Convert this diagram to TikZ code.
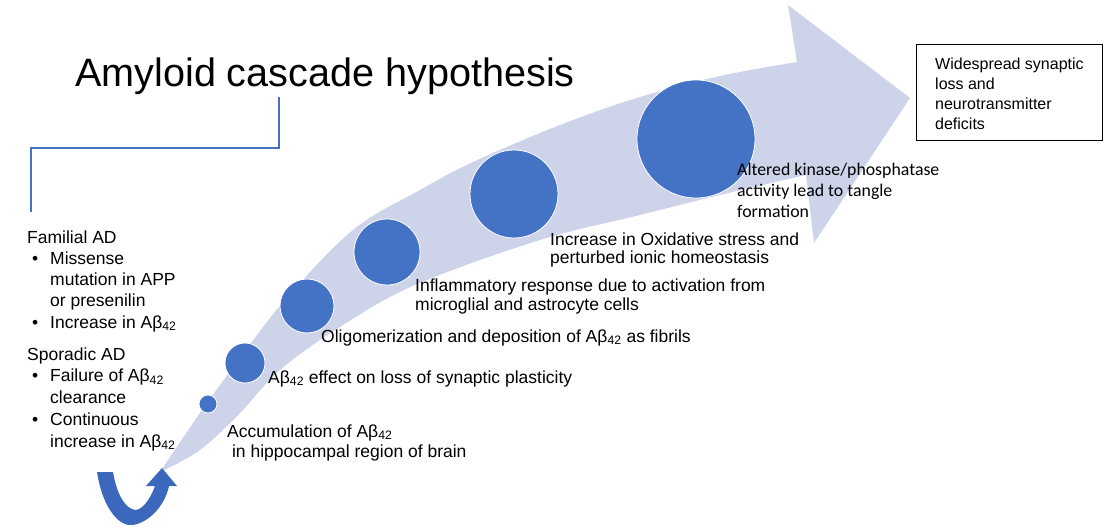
\documentclass[tikz,border=0pt]{standalone}
\usepackage{fontspec}
\setmainfont{Liberation Sans}
\newfontfamily\calib{Carlito}
\definecolor{bandc}{RGB}{205,212,234}
\definecolor{dotc}{RGB}{68,114,196}
\definecolor{uarr}{RGB}{59,104,188}
\newcommand\Ab{Aβ\textsubscript{42}}
\newcommand\lines[1]{\begin{tabular}[t]{@{}l@{}}#1\end{tabular}}
\tikzset{
  dot/.style={circle, fill=dotc, draw=white, line width=0.8pt, inner sep=0pt},
  txt/.style={anchor=base west, inner sep=0pt, font=\fontsize{17.5}{21.3}\selectfont},
  ktxt/.style={anchor=base west, inner sep=0pt, font=\calib\fontsize{17.8}{21.5}\selectfont},
  boxtxt/.style={anchor=base west, inner sep=0pt, font=\fontsize{16}{20}\selectfont},
  brk/.style={draw=dotc, line width=2pt}
}
\newcommand\bul{\makebox[23pt][l]{\hspace{5pt}•}}
\newcommand\ind{\hspace*{23pt}}
\begin{document}
\begin{tikzpicture}[x=1pt,y=-1pt]
\useasboundingbox (0,0) rectangle (1104,527);
\fill[white] (0,0) rectangle (1104,527);

% big curved arrow
\fill[bandc] plot[smooth, tension=0.6] coordinates {(160,472) (200,413) (240,358) (285,300) (353,230) (420,190) (473,162) (560,125) (640,97) (720,76) (797,62)}
  -- (788,5) -- (910,98) -- (814,243) -- (806,175)
  -- plot[smooth, tension=0.6] coordinates {(806,175) (720,195) (640,215) (540,240) (415,285) (340,327) (280,370) (240,413) (200,450) (160,472)} -- cycle;

% U-turn arrow
\fill[uarr] (97,472) .. controls (103,510) and (120,527) .. (133,525)
  .. controls (150,522) and (165,505) .. (169,486) -- (177,486) -- (162,468) -- (146,486) -- (155,486)
  .. controls (150,500) and (142,510) .. (135,510) .. controls (125,508) and (117,495) .. (113,472) -- cycle;

% circles
\node[dot, minimum size=18pt] (c1) at (208,404) {};
\node[dot, minimum size=40pt] (c2) at (245,363) {};
\node[dot, minimum size=54pt] (c3) at (307,306) {};
\node[dot, minimum size=66pt] (c4) at (387,252) {};
\node[dot, minimum size=88pt] (c5) at (514,194) {};
\node[dot, minimum size=118pt] (c6) at (696,139) {};

% title
\node[anchor=base west, inner sep=0pt, font=\fontsize{39.6}{48}\selectfont] (title) at (75,87) {Amyloid cascade hypothesis};

% bracket
\coordinate (bk) at (279,97);
\coordinate (bl) at (31,212);
\draw[brk] (bk) -- ++(0,51) -| (bl);

% left text
\node[txt] (fam) at (27,243) {\lines{Familial AD\\
\bul Missense\\
\ind mutation in APP\\
\ind or presenilin\\
\bul Increase in \Ab}};
\node[txt, font=\fontsize{17.5}{21.8}\selectfont] (spo) at (27,360) {\lines{Sporadic AD\\
\bul Failure of \Ab\\
\ind clearance\\
\bul Continuous\\
\ind increase in \Ab}};

% arc labels
\node[txt, font=\fontsize{17.5}{20}\selectfont] (t1) at (227,437) {\lines{Accumulation of \Ab\\ \ in hippocampal region of brain}};
\node[txt] (t2) at (268,383) {\Ab{} effect on loss of synaptic plasticity};
\node[txt] (t3) at (321,342) {Oligomerization and deposition of \Ab{} as fibrils};
\node[txt, font=\fontsize{17.5}{19.3}\selectfont] (t4) at (415,291) {\lines{Inflammatory response due to activation from\\microglial and astrocyte cells}};
\node[txt, font=\fontsize{17.5}{18.5}\selectfont] (t5) at (550,245) {\lines{Increase in Oxidative stress and\\perturbed ionic homeostasis}};
\node[ktxt] (t6) at (737,175) {\lines{Altered kinase/phosphatase\\activity lead to tangle\\formation}};

% box
\draw[black, line width=0.8pt] (916,44) rectangle (1102,140);
\node[boxtxt] (box) at (935,70) {\lines{Widespread synaptic\\loss and\\neurotransmitter\\deficits}};
\end{tikzpicture}
\end{document}
